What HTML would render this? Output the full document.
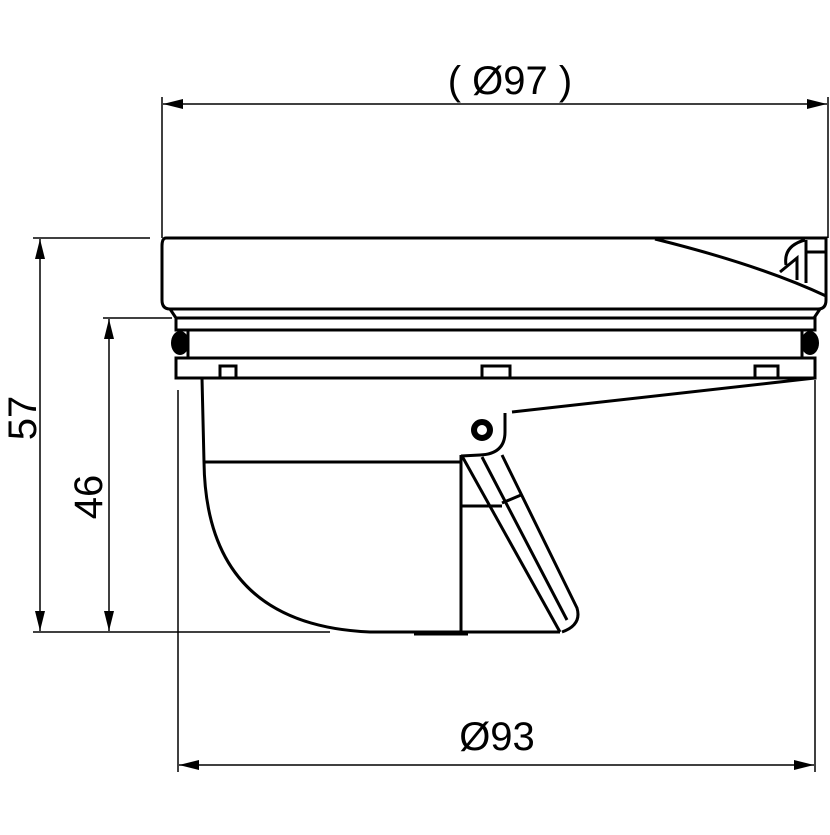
<!DOCTYPE html>
<html><head><style>body{margin:0;background:#fff}</style></head><body>
<svg width="830" height="830" viewBox="0 0 830 830" xmlns="http://www.w3.org/2000/svg">
<defs>
<marker id="a" viewBox="0 0 20 10" refX="20" refY="5" markerWidth="20" markerHeight="10" markerUnits="userSpaceOnUse" orient="auto-start-reverse"><path d="M0,0 L20,5 L0,10 z" fill="#000"/></marker>
</defs>
<g stroke="#000" fill="none" stroke-width="1.5">
<line x1="162" y1="97" x2="162" y2="238"/>
<line x1="828" y1="97" x2="828" y2="238"/>
<line x1="163" y1="104" x2="827" y2="104" marker-start="url(#a)" marker-end="url(#a)"/>
<line x1="33" y1="238" x2="150" y2="238"/>
<line x1="33" y1="632" x2="330" y2="632"/>
<line x1="40" y1="239" x2="40" y2="631" marker-start="url(#a)" marker-end="url(#a)"/>
<line x1="103" y1="318" x2="172" y2="318"/>
<line x1="109" y1="319" x2="109" y2="631" marker-start="url(#a)" marker-end="url(#a)"/>
<line x1="178" y1="390" x2="178" y2="772"/>
<line x1="815" y1="380" x2="815" y2="772"/>
<line x1="179" y1="765" x2="814" y2="765" marker-start="url(#a)" marker-end="url(#a)"/>
</g>
<g stroke="#000" fill="none" stroke-width="3">
<path d="M166,238 L826,238 L826,300 Q826,309 818,309 L170,309 Q162,309 162,300 L162,246 Q162,238 166,238 Z"/>
<path d="M655,239 Q760,265 826,296"/>
<path d="M780,272 L797,258 L797,280 M786,265 Q783,246 805,240 M806,240 L806,283 M806,252 L826,252"/>
<path d="M170,309 L176,318 L814,318 L820,309"/>
<rect x="176" y="318" width="639" height="12"/>
<rect x="188" y="330" width="614" height="28"/>
<rect x="176" y="358" width="639" height="20"/>
<rect x="220" y="366" width="16" height="12"/>
<rect x="482" y="366" width="28" height="12"/>
<rect x="755" y="366" width="23" height="12"/>
<path d="M202,378 L204,462 Q206,625 370,632 L560,632"/>
<line x1="204" y1="462" x2="460" y2="462"/>
<line x1="461" y1="455" x2="461" y2="632"/>
<line x1="461" y1="506" x2="502" y2="506"/>
<line x1="414" y1="634" x2="468" y2="634"/>
<path d="M512,412 L815,378"/>
<path d="M505,413 L505,432 Q505,454 480,455 L461,456"/>
<path d="M462,456 L560,632"/>
<path d="M482,457 L567,620"/>
<path d="M502,455 L577,608 Q582,625 562,632"/>
<path d="M502,503 L521,495"/>
</g>
<ellipse cx="180" cy="343" rx="9" ry="12" fill="#000"/>
<ellipse cx="810" cy="343" rx="9" ry="12" fill="#000"/>
<circle cx="482" cy="430" r="8" fill="none" stroke="#000" stroke-width="6"/>
<g font-family="Liberation Sans, sans-serif" font-size="40" fill="#000" text-anchor="middle">
<text x="510" y="94">( Ø97 )</text>
<text x="497" y="750">Ø93</text>
<text transform="translate(36,418) rotate(-90)">57</text>
<text transform="translate(102,497) rotate(-90)">46</text>
</g>
</svg>
</body></html>
